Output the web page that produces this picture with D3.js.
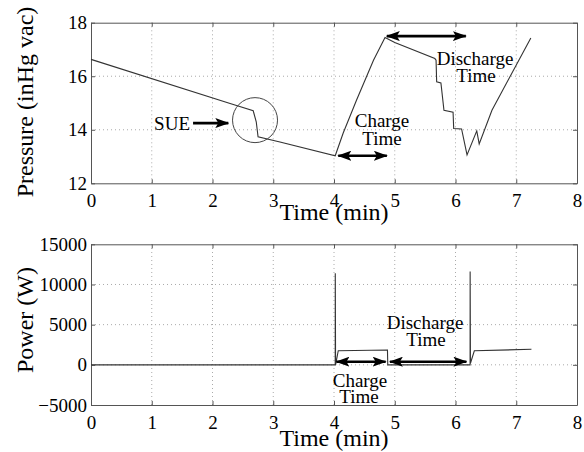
<!DOCTYPE html>
<html><head><meta charset="utf-8">
<script src="https://cdn.jsdelivr.net/npm/d3@7"></script>
<style>
html,body{margin:0;padding:0;background:#fff;}
svg{display:block;font-family:"Liberation Serif","Times New Roman",serif;}
svg text{font-family:"Liberation Serif","Times New Roman",serif !important;}
</style></head>
<body>
<svg id="chart" width="584" height="452"></svg>
<script>
// ---- data ----
const xTicks = [0,1,2,3,4,5,6,7,8];
const pressureTicks = [12,14,16,18];
const powerTicks = [-5000,0,5000,10000,15000];

const pressureTime = [0, 2.29, 2.67, 2.72, 2.75, 3.11, 4.02, 4.15, 4.37, 4.65, 4.84, 5.0, 5.66, 5.68, 5.69, 5.76, 5.81, 5.96, 5.97, 6.10, 6.19, 6.35, 6.39, 6.60, 7.24];
const pressureValues = [16.63, 14.98, 14.71, 14.30, 13.74, 13.54, 13.03, 13.87, 15.10, 16.60, 17.45, 17.26, 16.66, 16.60, 15.79, 15.75, 14.73, 14.66, 14.05, 14.03, 13.06, 13.96, 13.47, 14.73, 17.43];

const powerTime = [0, 4.02, 4.021, 4.026, 4.07, 4.88, 4.885, 6.24, 6.241, 6.246, 6.31, 7.25];
const powerValues = [0, 0, 11400, 0, 1750, 1850, 0, 0, 11600, 200, 1750, 1930];

// annotations (data coordinates)
const sueCircle = {t: 2.70, p: 14.36, r: 22.5};
const sueArrow = {t0: 1.68, t1: 2.26, p: 14.25};
const topCharge = {t0: 4.07, t1: 4.87, p: 13.03};
const topDischarge = {t0: 4.87, t1: 6.17, p: 17.5};
const botCharge = {t0: 4.04, t1: 4.85, w: 390};
const botDischarge = {t0: 4.92, t1: 6.18, w: 390};

// ---- layout ----
const svg = d3.select("#chart");
const X0 = 91, X1 = 577;
const x = d3.scaleLinear().domain([0,8]).range([X0, X1]);
const yTop = d3.scaleLinear().domain([12,18]).range([183.3, 22.7]);
const yBot = d3.scaleLinear().domain([-5000,15000]).range([405, 244.3]);
const FONT = "'Liberation Serif','Times New Roman',serif";

const defs = svg.append("defs");
defs.append("marker").attr("id","ah").attr("viewBox","0 0 14 10")
  .attr("refX",13).attr("refY",5).attr("markerWidth",14).attr("markerHeight",10)
  .attr("markerUnits","userSpaceOnUse").attr("orient","auto-start-reverse")
  .append("path").attr("d","M0,0 L14,5 L0,10 L3,5 Z").attr("fill","#000");

function panel(y, yticks, fmt){
  const g = svg.append("g");
  const [yb, yt] = y.range();
  // grid
  g.selectAll(".gx").data(xTicks.filter(d=>d>0&&d<8)).join("line")
    .attr("x1",d=>x(d)).attr("x2",d=>x(d)).attr("y1",yb).attr("y2",yt)
    .attr("stroke","#aaa").attr("stroke-width",1).attr("stroke-dasharray","1,3");
  g.selectAll(".gy").data(yticks.slice(1,-1)).join("line")
    .attr("y1",d=>y(d)).attr("y2",d=>y(d)).attr("x1",X0).attr("x2",X1)
    .attr("stroke","#aaa").attr("stroke-width",1).attr("stroke-dasharray","1,3");
  // axes via d3
  const ax = g.append("g").attr("transform",`translate(0,${yb})`)
    .call(d3.axisBottom(x).tickValues(xTicks).tickSize(-4).tickSizeOuter(0).tickPadding(6).tickFormat(d3.format("d")));
  const axT = g.append("g").attr("transform",`translate(0,${yt})`)
    .call(d3.axisTop(x).tickValues(xTicks).tickSize(-4).tickSizeOuter(0).tickFormat(""));
  const ay = g.append("g").attr("transform",`translate(${X0},0)`)
    .call(d3.axisLeft(y).tickValues(yticks).tickSize(-4).tickSizeOuter(0).tickPadding(4).tickFormat(fmt));
  const ayR = g.append("g").attr("transform",`translate(${X1},0)`)
    .call(d3.axisRight(y).tickValues(yticks).tickSize(-4).tickSizeOuter(0).tickFormat(""));
  [ax,axT,ay,ayR].forEach(a=>{
    a.attr("font-family", FONT).attr("font-size",19);
    a.select(".domain").attr("stroke","#555");
    a.selectAll(".tick line").attr("stroke","#555");
    a.selectAll("text").style("font-family", FONT).attr("font-size",19).attr("fill","#000");
  });
  ax.selectAll("text").attr("dy","0.95em");
  return g;
}

panel(yTop, pressureTicks, d3.format("d"));
panel(yBot, powerTicks, d => d<0 ? "\u2212"+Math.abs(d) : String(d));

// lines
const topLine = d3.line().x((d,i)=>x(pressureTime[i])).y(d=>yTop(d));
svg.append("path").attr("d", topLine(pressureValues))
  .attr("fill","none").attr("stroke","#333").attr("stroke-width",1.1);
const botLine = d3.line().x((d,i)=>x(powerTime[i])).y(d=>yBot(d));
svg.append("path").attr("d", botLine(powerValues))
  .attr("fill","none").attr("stroke","#333").attr("stroke-width",1.1);

// labels
function txt(xp, yp, s, size, anchor, rot){
  const t = svg.append("text").attr("x",xp).attr("y",yp).text(s)
    .style("font-family", FONT)
    .attr("font-size",size).attr("text-anchor",anchor||"middle").attr("fill","#000");
  if(rot) t.attr("transform",`rotate(${rot},${xp},${yp})`);
  return t;
}
txt(334, 220, "Time (min)", 24);
txt(334, 446, "Time (min)", 24);
txt(33, 102, "Pressure (inHg vac)", 24, "middle", -90);
txt(33, 320, "Power (W)", 24, "middle", -90);

// annotations
function dbl(x0, x1, yp, both){
  svg.append("line").attr("x1",x0).attr("x2",x1).attr("y1",yp).attr("y2",yp)
    .attr("stroke","#000").attr("stroke-width",2.6)
    .attr("marker-end","url(#ah)").attr("marker-start", both ? "url(#ah)" : null);
}
svg.append("circle").attr("cx",x(sueCircle.t)).attr("cy",yTop(sueCircle.p)).attr("r",sueCircle.r)
  .attr("fill","none").attr("stroke","#444").attr("stroke-width",1);
dbl(x(sueArrow.t0), x(sueArrow.t1), yTop(sueArrow.p), false);
txt(190, 130, "SUE", 19, "end");

dbl(x(topCharge.t0), x(topCharge.t1), yTop(topCharge.p), true);
txt(382, 127, "Charge", 19);
txt(382, 145, "Time", 19);
dbl(x(topDischarge.t0), x(topDischarge.t1), yTop(topDischarge.p), true);
txt(475, 65, "Discharge", 19);
txt(476, 82, "Time", 19);

dbl(x(botCharge.t0), x(botCharge.t1), yBot(botCharge.w), true);
txt(360, 387, "Charge", 19);
txt(359, 403, "Time", 19);
dbl(x(botDischarge.t0), x(botDischarge.t1), yBot(botDischarge.w), true);
txt(425, 329, "Discharge", 19);
txt(426, 346, "Time", 19);
</script>
</body></html>
